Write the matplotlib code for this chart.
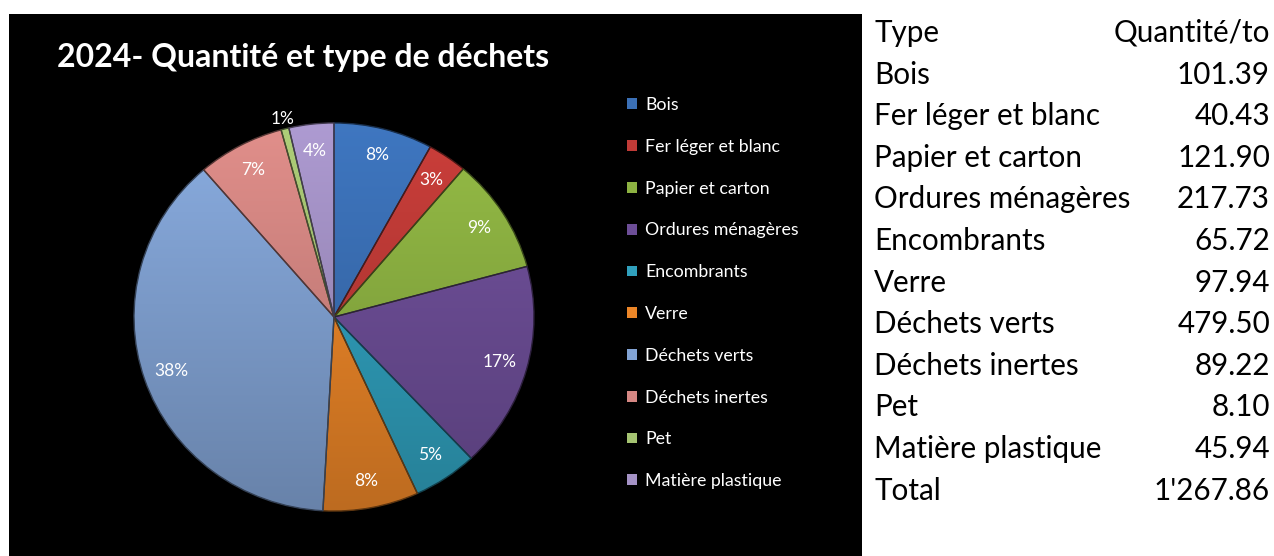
"""
Camembert 2024 - quantité et type de déchets, avec tableau à droite
"""
import numpy as np
import matplotlib.pyplot as plt
from matplotlib.patches import Patch, Rectangle
from matplotlib import colors as mcolors

plt.rcParams['font.family'] = ['Lato', 'DejaVu Sans']

# -- données ----------------------
types = ['Bois', 'Fer léger et blanc', 'Papier et carton', 'Ordures ménagères',
         'Encombrants', 'Verre', 'Déchets verts', 'Déchets inertes', 'Pet',
         'Matière plastique']
quantites = [101.39, 40.43, 121.90, 217.73, 65.72, 97.94, 479.50, 89.22, 8.10, 45.94]
quantites_txt = ['101.39', '40.43', '121.90', '217.73', '65.72', '97.94',
                 '479.50', '89.22', '8.10', '45.94']
total_txt = "1'267.86"
pct_labels = ['8%', '3%', '9%', '17%', '5%', '8%', '38%', '7%', '1%', '4%']
couleurs = ['#3B70B6', '#C03B37', '#8DB242', '#6D4E97', '#30A0BD',
            '#EC8628', '#82A3D4', '#D58783', '#A5C472', '#A492C6']

W, H = 1274, 556
fig = plt.figure(figsize=(W / 100, H / 100), dpi=100)
fig.patch.set_facecolor('white')

# fond noir du graphique
fig.add_artist(Rectangle((9 / W, 0), (862 - 9) / W, (H - 14) / H,
                         transform=fig.transFigure, facecolor='black',
                         edgecolor='none', zorder=0))

fig.text(303 / W, 1 - 58 / H, '2024- Quantité et type de déchets',
         color='white', fontsize=23, fontweight='bold',
         ha='center', va='center')

# -- camembert (légèrement ovale comme l'original) ----------------------
cx, cy, rx, ry = 334, 317, 202, 196
ax = fig.add_axes([(cx - rx) / W, (H - cy - ry) / H, 2 * rx / W, 2 * ry / H])
ax.set_facecolor('none')
wedges, _ = ax.pie(quantites, startangle=90, counterclock=False, radius=1,
                   colors=couleurs)
ax.set_aspect('auto')
ax.set_xlim(-1.01, 1.01)
ax.set_ylim(-1.01, 1.01)
ax.axis('off')

# dégradé vertical clair -> foncé, découpé par chaque part
g = np.linspace(1, 0, 256)[:, None] * np.ones((1, 4))
for w, c in zip(wedges, couleurs):
    rgb = np.array(mcolors.to_rgb(c))
    fac = 0.80 + 0.26 * g[..., None]
    img = np.clip(rgb[None, None, :] * fac, 0, 1)
    im = ax.imshow(img, extent=(-1, 1, -1, 1), aspect='auto', zorder=2,
                   interpolation='bilinear')
    im.set_clip_path(w)
    w.set_facecolor('none')
    w.set_edgecolor(tuple(rgb * 0.4))
    w.set_linewidth(1.0)
    w.set_zorder(3)

petit = int(np.argmin(quantites))
for i, (w, lab) in enumerate(zip(wedges, pct_labels)):
    ang = np.deg2rad((w.theta1 + w.theta2) / 2)
    d = 1.05 if i == petit else 0.86
    ax.text(d * np.cos(ang), d * np.sin(ang), lab, color='white',
            fontsize=12.5, ha='center', va='center', zorder=4)

# -- légende ----------------------
handles = [Patch(facecolor=c, edgecolor='none') for c in couleurs]
fig.legend(handles, types, loc='upper left', bbox_to_anchor=(620 / W, 1 - 90 / H),
           frameon=False, labelcolor='white', fontsize=12.8,
           handlelength=0.55, handleheight=0.55, handletextpad=0.45,
           labelspacing=1.45, borderaxespad=0)

# -- tableau ----------------------
y0, pas = 33, 41.6
x_g, x_d = 874, 1270
fs_tab = 21.3
fig.text(x_g / W, 1 - y0 / H, 'Type', fontsize=fs_tab, ha='left', va='center')
fig.text(x_d / W, 1 - y0 / H, 'Quantité/to', fontsize=fs_tab, ha='right', va='center')
for i, (t, q) in enumerate(zip(types + ['Total'], quantites_txt + [total_txt])):
    y = y0 + pas * (i + 1)
    fig.text(x_g / W, 1 - y / H, t, fontsize=fs_tab, ha='left', va='center')
    fig.text(x_d / W, 1 - y / H, q, fontsize=fs_tab, ha='right', va='center')

fig.savefig('out.png', dpi=100, facecolor='white')
